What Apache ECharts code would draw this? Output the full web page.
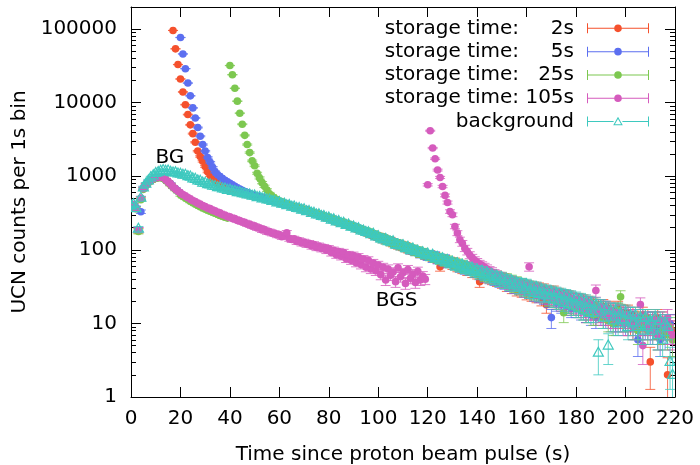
<!DOCTYPE html>
<html>
<head>
<meta charset="utf-8">
<script src="https://cdn.jsdelivr.net/npm/echarts@6/dist/echarts.min.js"></script>
<style>
  html, body { margin: 0; padding: 0; background: #fff; }
  #chart { width: 700px; height: 465px; }
</style>
</head>
<body>
<div id="chart"></div>
<script>
// time bins (s), one per 1 s bin
const binTimes = Array.from({ length: 220 }, (_, i) => i);

// counts per bin (10 bins per row)
const counts2s = [
  392, 404, 366, 182, 497, 676, 772, 826, 890, 915,
  958, 962, 982, 951, 908, 846, 772, 96000, 54000, 33000,
  21000, 14000, 9400, 6900, 5000, 3800, 2900, 2200, 1860, 1600,
  1360, 1150, 1030, 940, 870, 810, 770, 735, 700, 672,
  668, 622, 641, 604, 620, 578, 596, 560, 574, 541,
  552, 529, 510, 519, 489, 497, 470, 478, 449, 457,
  431, 445, 412, 418, 395, 400, 378, 383, 360, 366,
  343, 352, 326, 330, 309, 315, 293, 297, 280, 271,
  276, 257, 262, 240, 247, 228, 236, 215, 222, 204,
  211, 193, 188, 193, 178, 181, 166, 169, 156, 160,
  146, 153, 136, 141, 130, 136, 121, 127, 113, 120,
  108, 115, 101, 104, 97, 94, 96, 88, 92, 85,
  82, 88, 78, 83, 74, 59, 70, 75, 66, 71,
  62, 69, 58, 64, 55, 60, 52, 57, 49, 54,
  47, 37, 46, 50, 42, 47, 40, 44, 38, 42,
  36, 41, 33, 38, 31, 36, 29, 34, 28, 33,
  26, 32, 25, 31, 24, 30, 22, 29, 18, 27,
  22, 27, 20, 25, 19, 24, 18, 23, 17, 21,
  17, 21, 16, 20, 14, 19, 15, 18, 13, 17,
  14, 17, 13, 16, 12, 15, 11, 16, 12, 14,
  11, 14, 10, 13, 11, 12, 9, 13, 10, 12,
  3, 11, 9, 12, 8, 11, 9, 2, 10, 8
];
const counts5s = [
  386, 396, 375, 188, 330, 690, 752, 838, 872, 928,
  944, 970, 968, 965, 893, 835, 788, 714, 676, 624,
  77000, 46000, 29000, 18500, 12400, 8500, 6200, 4600, 3500, 2700,
  2200, 1800, 1550, 1320, 1150, 1060, 990, 930, 880, 840,
  800, 765, 730, 700, 672, 645, 622, 600, 582, 563,
  545, 534, 521, 509, 503, 486, 484, 462, 466, 441,
  443, 428, 421, 409, 402, 392, 381, 372, 368, 354,
  347, 346, 333, 321, 318, 304, 300, 292, 283, 278,
  266, 268, 250, 252, 238, 240, 225, 228, 212, 216,
  198, 205, 190, 188, 185, 172, 176, 160, 167, 150,
  152, 141, 148, 132, 139, 125, 131, 116, 124, 110,
  114, 104, 111, 97, 105, 93, 99, 87, 94, 83,
  81, 87, 76, 85, 73, 79, 69, 77, 65, 70,
  67, 61, 64, 57, 62, 54, 59, 52, 55, 49,
  53, 46, 50, 43, 48, 41, 45, 39, 43, 37,
  40, 35, 38, 33, 37, 31, 35, 30, 33, 28,
  32, 27, 30, 25, 29, 24, 27, 23, 26, 21,
  12, 25, 19, 24, 18, 23, 17, 22, 16, 21,
  16, 20, 15, 19, 14, 18, 13, 17, 12, 16,
  13, 16, 12, 15, 11, 14, 10, 15, 11, 13,
  10, 13, 11, 12, 9, 6, 10, 12, 9, 11,
  8, 11, 9, 10, 6, 9, 7, 8, 10, 6
];
const counts25s = [
  384, 408, 362, 178, 480, 664, 748, 818, 864, 908,
  938, 950, 962, 940, 882, 826, 768, 708, 660, 620,
  560, 530, 505, 482, 458, 438, 420, 402, 386, 372,
  358, 346, 335, 324, 314, 304, 294, 286, 278, 270,
  32000, 24000, 15700, 10500, 7200, 5100, 3600, 2700, 2100, 1620,
  1390, 1100, 950, 820, 730, 650, 580, 540, 508, 482,
  462, 448, 433, 419, 406, 396, 380, 379, 362, 363,
  352, 338, 336, 322, 322, 307, 306, 291, 290, 275,
  279, 259, 263, 241, 249, 229, 238, 216, 225, 203,
  210, 194, 199, 183, 187, 171, 180, 161, 168, 151,
  156, 140, 149, 131, 140, 124, 131, 117, 125, 110,
  117, 104, 112, 98, 106, 93, 100, 88, 95, 84,
  88, 80, 84, 76, 81, 72, 78, 68, 74, 65,
  70, 61, 67, 58, 64, 55, 61, 53, 58, 50,
  55, 47, 53, 44, 50, 42, 47, 40, 45, 38,
  43, 36, 41, 34, 39, 32, 37, 30, 35, 29,
  33, 28, 31, 26, 30, 25, 28, 24, 27, 22,
  26, 21, 25, 20, 24, 14, 23, 18, 22, 17,
  21, 16, 20, 15, 19, 14, 18, 13, 17, 15,
  16, 12, 15, 11, 14, 10, 13, 15, 23, 11,
  13, 10, 12, 9, 12, 8, 11, 9, 12, 8,
  10, 9, 11, 7, 10, 8, 9, 7, 9, 6
];
const counts105s = [
  398, 412, 368, 188, 505, 684, 766, 834, 884, 924,
  952, 968, 978, 962, 904, 842, 784, 722, 672, 632,
  598, 562, 544, 512, 494, 466, 454, 428, 418, 396,
  388, 368, 364, 344, 340, 322, 318, 300, 298, 282,
  282, 266, 266, 251, 251, 237, 237, 223, 224, 210,
  212, 198, 200, 186, 189, 176, 178, 168, 169, 159,
  161, 151, 155, 170, 143, 138, 141, 130, 134, 124,
  128, 119, 123, 113, 118, 108, 113, 104, 108, 99,
  104, 92, 99, 86, 95, 82, 92, 76, 86, 72,
  84, 67, 80, 63, 75, 58, 72, 55, 66, 52,
  62, 46, 58, 39, 55, 45, 50, 37, 57, 43,
  49, 35, 54, 41, 47, 36, 51, 39, 44, 40,
  766, 4160, 2420, 1730, 1215, 965, 726, 550, 440, 332,
  300, 208, 169, 137, 123, 105, 95, 85, 78, 72,
  68, 64, 61, 58, 55, 52, 50, 47, 45, 43,
  42, 37, 39, 35, 37, 33, 35, 31, 34, 30,
  32, 59, 30, 27, 30, 25, 28, 24, 27, 23,
  26, 22, 25, 21, 24, 20, 23, 19, 22, 18,
  21, 17, 20, 16, 19, 15, 18, 15, 28, 14,
  17, 13, 16, 12, 15, 12, 14, 11, 14, 10,
  13, 10, 12, 9, 12, 10, 18, 5, 11, 9,
  10, 8, 11, 7, 10, 11, 9, 12, 8, 7
];
const countsBg = [
  405, 418, 370, 194, 512, 708, 795, 878, 968, 1032,
  1108, 1142, 1190, 1215, 1188, 1196, 1150, 1128, 1131, 1094,
  1085, 1049, 1052, 1004, 991, 938, 925, 879, 868, 822,
  818, 781, 776, 744, 739, 712, 711, 683, 681, 655,
  658, 631, 632, 610, 607, 589, 585, 566, 567, 545,
  547, 522, 524, 502, 503, 484, 482, 463, 465, 443,
  446, 424, 425, 405, 407, 387, 388, 371, 370, 353,
  356, 336, 338, 319, 320, 303, 304, 289, 288, 273,
  275, 258, 260, 244, 246, 231, 233, 218, 221, 206,
  208, 196, 197, 184, 183, 175, 173, 163, 165, 152,
  153, 143, 139, 141, 131, 129, 131, 119, 118, 115,
  116, 106, 110, 100, 104, 96, 97, 91, 93, 86,
  89, 81, 86, 77, 80, 73, 77, 69, 73, 66,
  69, 61, 66, 58, 63, 55, 60, 53, 57, 50,
  54, 47, 52, 45, 49, 43, 46, 40, 44, 38,
  42, 36, 40, 34, 38, 33, 36, 31, 35, 29,
  34, 27, 32, 26, 31, 25, 29, 24, 28, 22,
  27, 21, 26, 20, 25, 19, 24, 18, 23, 17,
  22, 16, 21, 15, 20, 14, 19, 14, 18, 4,
  17, 12, 16, 5, 15, 11, 15, 10, 14, 11,
  14, 9, 13, 10, 13, 9, 12, 8, 12, 9,
  11, 8, 12, 7, 11, 6, 10, 9, 3, 2
];

const seriesNames = ['storage time:     2s', 'storage time:     5s', 'storage time:   25s', 'storage time: 105s', 'background'];
const seriesColors = ['#f5512d', '#5c6ff0', '#7dc850', '#d55bbd', '#3ec9bf'];

// text annotations on the plot
const noteTexts = ['BG', 'BGS'];
const noteTimes = [15.7, 107.4];
const noteCounts = [1810, 20.6];

const FONT = 'DejaVu Sans';

// minor log ticks 2..9 per decade
const minorTicks = [];
for (let p = 1; p <= 100000; p *= 10) {
    for (let m = 2; m <= 9; m++) {
        if (m * p <= 200000) minorTicks.push(m * p);
    }
}

// legend samples: bar with caps and the marker in the middle
const dotIcon = 'path://M0,5L0.01,5 M8,4.5L70,4.5L70,5.5L8,5.5Z M8,0L9,0L9,10L8,10Z M69,0L70,0L70,10L69,10Z M35.2,5A3.8,3.8,0,1,1,42.8,5A3.8,3.8,0,1,1,35.2,5Z';
const triIcon = 'path://M0,5L0.01,5 M8,4.5L34.6,4.5L34.6,5.5L8,5.5Z M43.4,4.5L70,4.5L70,5.5L43.4,5.5Z M8,0L9,0L9,10L8,10Z M69,0L70,0L70,10L69,10Z M39,0.3L43.8,8.8L34.2,8.8Z M39,2.5L35.9,7.8L42.1,7.8Z';

// one point: poisson error bar (sqrt N) with caps + marker
function errorBarItem(color, hollow) {
    return function (params, api) {
        const t = api.value(0);
        const n = api.value(1);
        const sigma = Math.sqrt(n);
        const c = api.coord([t, n]);
        const hi = api.coord([t, n + sigma]);
        const lo = api.coord([t, Math.max(n - sigma, 0.01)]);
        const cap = 5;
        const barStyle = { stroke: color, lineWidth: 1, opacity: 0.8 };
        const children = [
            { type: 'line', shape: { x1: c[0], y1: hi[1], x2: c[0], y2: lo[1] }, style: barStyle },
            { type: 'line', shape: { x1: c[0] - cap, y1: hi[1], x2: c[0] + cap, y2: hi[1] }, style: barStyle },
            { type: 'line', shape: { x1: c[0] - cap, y1: lo[1], x2: c[0] + cap, y2: lo[1] }, style: barStyle }
        ];
        if (hollow) {
            children.push({
                type: 'polygon',
                shape: { points: [[c[0], c[1] - 5.5], [c[0] + 5, c[1] + 3.5], [c[0] - 5, c[1] + 3.5]] },
                style: { fill: 'none', stroke: color, lineWidth: 1.2 }
            });
        } else {
            children.push({ type: 'circle', shape: { cx: c[0], cy: c[1], r: 3.8 }, style: { fill: color } });
        }
        return { type: 'group', children: children };
    };
}

const allCounts = [counts2s, counts5s, counts25s, counts105s, countsBg];

const dataSeries = allCounts.map((counts, k) => ({
    name: seriesNames[k],
    type: 'custom',
    clip: true,
    itemStyle: { color: seriesColors[k] },
    renderItem: errorBarItem(seriesColors[k], k === 4),
    data: binTimes.map((t, i) => [t, counts[i]])
}));

const noteSeries = {
    name: 'notes',
    type: 'custom',
    silent: true,
    renderItem: function (params, api) {
        const p = api.coord([api.value(0), api.value(1)]);
        return {
            type: 'text',
            style: {
                text: noteTexts[params.dataIndex],
                x: p[0], y: p[1],
                align: 'center', verticalAlign: 'middle',
                font: '20px "DejaVu Sans"', fill: '#000'
            }
        };
    },
    data: noteTimes.map((t, i) => [t, noteCounts[i]])
};

const black = { color: '#000', width: 1 };
const yBase = { type: 'log', logBase: 10, min: 1, max: 200000, splitLine: { show: false } };
const isDecade = v => Math.abs(Math.log10(v) - Math.round(Math.log10(v))) < 1e-6 && v <= 100000;

const option = {
    animation: false,
    backgroundColor: '#fff',
    textStyle: { fontFamily: FONT },
    grid: { left: 131, right: 25, top: 7, bottom: 68, outerBoundsMode: 'none' },
    legend: {
        orient: 'vertical',
        align: 'right',
        right: 51,
        top: 16.7,
        padding: 0,
        itemGap: 0,
        itemWidth: 70,
        itemHeight: 10,
        selectedMode: false,
        textStyle: { fontSize: 20, color: '#000', fontFamily: FONT, lineHeight: 23.3 },
        data: seriesNames.map((n, k) => ({ name: n, icon: k === 4 ? triIcon : dotIcon }))
    },
    xAxis: [
        {
            type: 'value', position: 'bottom', min: 0, max: 220, interval: 20,
            name: 'Time since proton beam pulse (s)', nameLocation: 'middle', nameGap: 48,
            nameTextStyle: { fontSize: 20, color: '#000', fontFamily: FONT },
            axisLine: { onZero: false, lineStyle: black },
            axisTick: { inside: true, length: 10, lineStyle: black },
            axisLabel: { fontSize: 20, color: '#000', margin: 12, fontFamily: FONT },
            splitLine: { show: false }
        },
        {
            type: 'value', position: 'top', min: 0, max: 220, interval: 20,
            axisLine: { onZero: false, lineStyle: black },
            axisTick: { inside: true, length: 10, lineStyle: black },
            axisLabel: { show: false },
            splitLine: { show: false }
        }
    ],
    yAxis: [
        Object.assign({}, yBase, {
            position: 'left',
            name: 'UCN counts per 1s bin', nameLocation: 'middle', nameGap: 98,
            nameTextStyle: { fontSize: 20, color: '#000', fontFamily: FONT },
            axisLine: { show: true, onZero: false, lineStyle: black },
            axisTick: { inside: true, length: 10, lineStyle: black },
            axisLabel: { fontSize: 20, color: '#000', margin: 14, fontFamily: FONT,
                formatter: v => isDecade(v) ? String(Math.round(v)) : '' }
        }),
        Object.assign({}, yBase, {
            position: 'right',
            axisLine: { show: true, onZero: false, lineStyle: black },
            axisTick: { inside: true, length: 10, lineStyle: black },
            axisLabel: { show: false }
        }),
        Object.assign({}, yBase, {
            position: 'left',
            axisLine: { show: false, onZero: false },
            axisTick: { inside: true, length: 5, lineStyle: black, customValues: minorTicks },
            axisLabel: { show: false }
        }),
        Object.assign({}, yBase, {
            position: 'right',
            axisLine: { show: false, onZero: false },
            axisTick: { inside: true, length: 5, lineStyle: black, customValues: minorTicks },
            axisLabel: { show: false }
        })
    ],
    series: dataSeries.concat([noteSeries])
};

const chart = echarts.init(document.getElementById('chart'));
chart.setOption(option);
</script>
</body>
</html>
